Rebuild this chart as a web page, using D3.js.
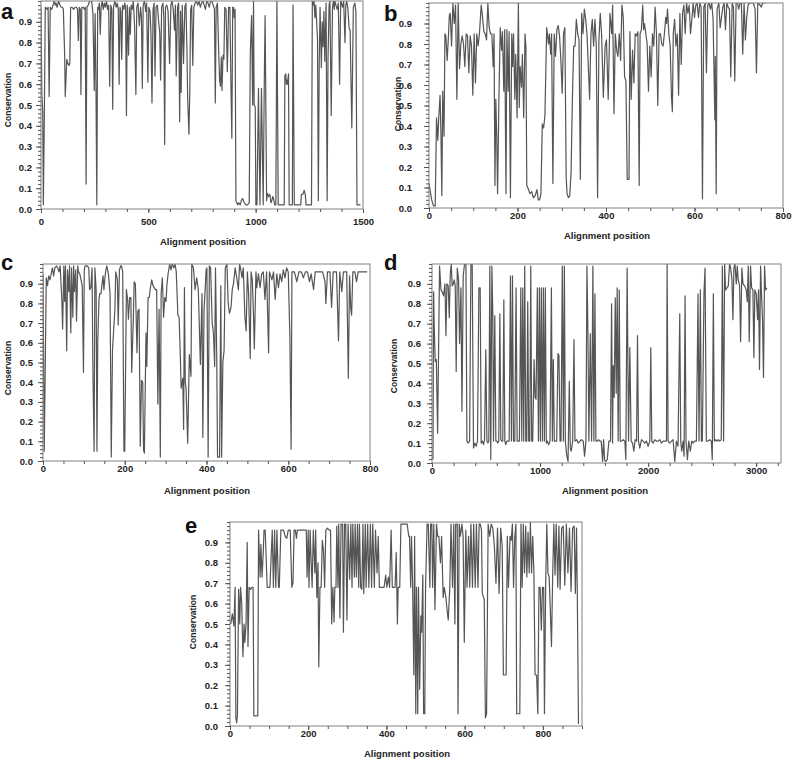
<!DOCTYPE html>
<html>
<head>
<meta charset="utf-8">
<script src="https://cdn.jsdelivr.net/npm/d3@7"></script>
<style>
  body { margin: 0; background: #fff; }
  text { font-family: Arial, "Liberation Sans", sans-serif; }
</style>
</head>
<body>
<svg id="fig" width="793" height="760"></svg>
<script>
// conservation along the alignment, [position, conservation]
var seriesA = [[0,0.97],[4,0.55],[8,0.47],[11,0.02],[16,0.5],[20,0.97],[28,0.96],[33,0.97],[38,0.54],[43,0.97],[50,0.96],[56,0.98],[62,1.0],[66,0.98],[70,0.99],[75,0.97],[82,1.0],[88,0.98],[94,0.97],[100,0.97],[104,0.96],[110,0.75],[113,0.54],[120,0.72],[125,0.70],[130,0.69],[134,0.70],[138,0.97],[145,0.97],[152,0.96],[158,0.97],[165,0.97],[170,0.96],[174,0.81],[178,0.97],[183,0.96],[186,0.55],[190,0.97],[197,0.97],[202,0.96],[206,0.97],[210,0.12],[214,0.97],[220,0.98],[226,1.0],[236,1.0],[242,0.94],[248,0.57],[252,0.94],[256,0.6],[260,0.02],[264,0.97],[268,0.96],[272,0.99],[276,0.84],[280,0.97],[285,1.0],[290,0.96],[295,0.99],[300,0.97],[305,1.0],[310,0.96],[315,0.98],[320,0.59],[325,0.98],[330,0.96],[334,0.48],[338,0.97],[344,1.0],[350,0.97],[355,0.99],[360,0.96],[364,0.6],[368,0.97],[372,0.95],[376,0.72],[380,0.98],[386,0.96],[390,0.99],[394,0.97],[398,0.45],[402,0.98],[408,0.74],[412,0.97],[416,0.84],[420,0.98],[425,0.96],[430,1.0],[436,0.88],[442,0.55],[446,0.97],[452,0.99],[458,0.88],[464,0.97],[468,0.92],[472,0.58],[476,0.98],[482,1.0],[488,0.95],[492,0.99],[498,0.61],[502,0.97],[508,0.95],[512,0.85],[517,0.51],[522,0.96],[527,0.99],[531,0.64],[536,0.97],[542,0.98],[548,0.90],[553,0.85],[557,0.62],[562,0.97],[568,0.99],[572,0.93],[576,0.31],[580,0.97],[586,0.98],[592,0.95],[599,0.70],[605,0.98],[610,1.0],[616,0.96],[622,0.86],[626,0.98],[630,0.64],[636,0.97],[641,0.99],[646,0.42],[650,0.95],[653,0.56],[658,0.98],[664,0.70],[670,0.97],[675,0.99],[680,0.76],[683,0.54],[689,0.36],[693,0.56],[697,0.96],[702,0.98],[707,0.69],[712,0.97],[718,0.99],[723,1.0],[730,0.98],[736,1.0],[742,0.97],[748,0.99],[754,1.0],[760,0.98],[766,0.96],[772,1.0],[778,0.99],[784,0.97],[790,1.0],[796,1.0],[802,0.98],[808,0.96],[812,0.51],[816,0.97],[822,0.99],[828,0.75],[832,0.62],[836,0.59],[840,0.73],[843,0.57],[848,0.74],[852,0.72],[856,0.97],[862,0.96],[868,0.66],[874,0.97],[880,0.97],[884,0.65],[889,0.34],[893,0.97],[897,0.97],[900,0.92],[904,0.96],[908,0.04],[916,0.02],[922,0.03],[928,0.02],[933,0.04],[939,0.05],[947,0.03],[955,0.02],[962,0.02],[970,0.03],[975,0.75],[981,0.93],[986,0.50],[990,1.0],[993,0.50],[998,0.49],[1001,0.02],[1006,0.02],[1013,0.58],[1020,0.02],[1027,0.58],[1035,0.02],[1040,0.60],[1044,0.93],[1051,0.04],[1055,0.075],[1060,0.06],[1066,0.07],[1071,0.03],[1075,0.04],[1080,0.06],[1083,0.05],[1089,0.02],[1094,0.02],[1099,1.0],[1105,0.02],[1115,0.02],[1125,0.02],[1133,0.02],[1136,0.64],[1140,0.65],[1143,0.60],[1145,0.62],[1148,0.60],[1153,0.65],[1156,0.02],[1165,0.02],[1171,0.02],[1174,0.98],[1180,0.02],[1190,0.02],[1200,0.02],[1210,0.02],[1213,0.07],[1220,0.07],[1226,0.09],[1231,0.07],[1235,0.02],[1245,0.02],[1255,0.02],[1260,0.02],[1264,1.0],[1268,0.98],[1272,1.0],[1276,0.92],[1280,0.98],[1284,0.90],[1288,0.82],[1292,0.04],[1296,0.70],[1300,0.97],[1306,0.68],[1310,0.90],[1314,0.78],[1318,0.95],[1322,0.71],[1328,0.99],[1333,0.04],[1337,0.72],[1342,0.98],[1346,1.0],[1352,0.45],[1358,0.97],[1362,1.0],[1366,0.96],[1369,1.0],[1374,0.98],[1380,0.96],[1385,0.99],[1391,0.6],[1396,1.0],[1400,0.99],[1405,0.97],[1410,1.0],[1416,0.80],[1420,0.98],[1424,1.0],[1430,0.96],[1435,0.87],[1440,0.86],[1448,0.39],[1455,0.97],[1462,0.99],[1467,0.95],[1472,0.02],[1488,0.02]];

var seriesB = [[0,0.12],[3,0.08],[6,0.04],[10,0.01],[14,0.01],[17,0.44],[20,0.33],[22,0.44],[25,0.55],[27,0.36],[29,0.06],[31,0.57],[34,0.35],[36,0.85],[38,0.84],[41,0.72],[44,0.84],[46,0.94],[48,0.95],[51,0.79],[54,1.0],[57,0.90],[60,0.99],[63,0.53],[66,1.0],[69,0.68],[72,0.80],[75,0.84],[78,0.80],[81,0.69],[84,0.85],[87,0.84],[90,0.66],[93,0.84],[96,0.79],[99,0.55],[102,0.85],[105,0.61],[108,0.85],[111,0.79],[114,0.85],[118,0.99],[121,0.93],[124,0.86],[127,0.85],[130,0.82],[133,1.0],[136,0.88],[139,0.85],[142,0.85],[145,0.69],[147,0.85],[149,0.11],[151,0.53],[153,0.36],[155,0.07],[158,0.53],[161,0.88],[164,0.77],[166,0.86],[169,0.57],[171,0.87],[174,0.07],[176,0.87],[179,0.57],[181,0.86],[184,0.05],[187,0.85],[189,0.69],[191,0.85],[194,0.53],[196,0.75],[199,0.44],[202,1.0],[204,0.49],[206,0.69],[209,0.59],[211,0.75],[214,0.44],[217,0.85],[219,0.79],[221,0.11],[225,0.09],[228,0.07],[232,0.08],[236,0.05],[240,0.06],[244,0.09],[247,0.04],[250,0.04],[253,0.07],[256,0.41],[259,0.39],[262,0.45],[266,0.88],[270,0.80],[272,0.85],[275,0.75],[277,0.85],[280,0.12],[283,0.85],[286,0.74],[289,0.87],[292,0.89],[295,0.84],[298,0.72],[301,0.56],[304,0.85],[307,0.88],[310,0.15],[312,0.07],[315,0.05],[318,0.06],[321,0.17],[324,0.53],[327,0.79],[330,0.79],[333,0.92],[336,0.85],[339,0.82],[342,0.14],[345,0.95],[348,0.85],[351,0.97],[354,0.92],[357,0.85],[360,0.69],[363,0.53],[366,0.85],[369,0.92],[372,0.79],[375,0.92],[378,0.79],[381,0.05],[384,0.82],[387,0.95],[390,0.85],[394,0.54],[398,0.79],[401,0.82],[405,0.53],[409,0.95],[413,0.85],[415,0.99],[418,0.46],[421,0.85],[424,0.77],[427,0.74],[430,0.85],[433,0.72],[436,0.99],[439,0.93],[442,0.64],[445,0.62],[448,0.14],[452,0.14],[454,0.86],[457,0.53],[460,0.77],[463,0.61],[466,0.85],[469,0.84],[472,0.86],[475,0.11],[477,0.85],[480,0.87],[483,0.99],[485,0.87],[487,0.90],[490,0.85],[493,0.80],[496,0.57],[499,0.79],[502,0.64],[505,0.85],[508,0.79],[511,0.98],[514,0.85],[517,0.50],[520,0.85],[523,0.85],[526,0.80],[529,0.79],[532,0.85],[535,0.93],[537,0.90],[539,0.97],[542,0.85],[545,0.79],[548,0.54],[550,0.47],[552,0.85],[555,0.92],[558,0.79],[561,0.85],[564,0.55],[567,0.95],[570,0.70],[573,0.95],[576,0.99],[579,0.85],[582,1.0],[585,0.95],[588,0.99],[591,0.85],[594,0.92],[597,1.0],[600,0.93],[603,0.99],[606,1.0],[609,0.93],[612,1.0],[615,0.98],[618,0.045],[621,0.98],[624,1.0],[627,0.66],[630,0.99],[633,1.0],[636,0.97],[639,1.0],[642,0.92],[646,0.43],[647,0.74],[649,0.07],[651,0.97],[655,1.0],[658,0.88],[661,0.93],[664,0.98],[667,1.0],[670,0.87],[673,1.0],[676,0.98],[679,0.97],[682,0.64],[685,1.0],[688,0.98],[691,0.62],[694,1.0],[697,1.0],[700,0.97],[703,1.0],[706,1.0],[709,0.75],[712,1.0],[715,0.82],[718,0.93],[721,0.99],[725,1.0],[733,1.0],[737,0.97],[740,0.66],[743,1.0],[748,0.99],[751,0.98],[754,1.0],[760,1.0]];

var seriesC = [[0,0.95],[3,0.05],[8,0.93],[11,0.89],[14,0.94],[17,0.92],[20,0.95],[23,0.98],[26,0.94],[29,0.98],[33,0.99],[36,0.98],[39,0.96],[42,0.99],[46,0.82],[48,0.67],[51,0.99],[53,0.81],[55,0.99],[58,0.56],[60,0.97],[63,0.86],[65,0.99],[68,0.65],[70,0.98],[73,0.73],[75,0.99],[77,0.86],[80,0.97],[82,0.71],[85,0.99],[87,0.96],[90,0.95],[93,0.92],[96,0.89],[99,0.45],[101,0.97],[103,0.99],[108,0.99],[112,0.98],[114,0.87],[117,0.88],[120,0.98],[122,0.48],[125,0.05],[127,0.98],[130,0.87],[132,0.05],[134,0.61],[137,0.82],[139,0.85],[142,0.85],[144,0.89],[147,0.94],[149,0.87],[152,0.94],[154,0.97],[156,0.99],[160,0.95],[164,0.85],[167,0.02],[170,0.56],[173,0.67],[176,0.77],[178,0.96],[182,0.92],[184,0.69],[187,0.97],[190,0.99],[192,0.99],[195,0.96],[198,0.05],[200,0.05],[204,0.87],[207,0.82],[209,0.72],[212,0.83],[215,0.83],[217,0.45],[221,0.72],[223,0.91],[226,0.90],[230,0.55],[232,0.76],[235,0.77],[238,0.075],[241,0.41],[244,0.40],[246,0.055],[248,0.04],[252,0.65],[254,0.48],[257,0.83],[260,0.83],[262,0.87],[266,0.92],[269,0.89],[272,0.88],[275,0.87],[278,0.87],[281,0.29],[284,0.77],[287,0.02],[289,0.85],[292,0.93],[295,0.73],[298,0.83],[301,0.81],[303,0.89],[306,0.95],[310,1.0],[313,0.97],[316,1.0],[320,0.98],[323,1.0],[326,0.96],[330,0.74],[333,0.73],[336,0.53],[338,0.37],[342,0.42],[344,0.16],[346,0.88],[348,0.40],[350,0.37],[354,0.09],[358,0.54],[362,0.43],[364,1.0],[368,0.98],[372,0.87],[376,0.93],[380,0.87],[385,0.49],[389,0.85],[391,0.12],[394,0.77],[397,0.88],[399,0.97],[401,0.98],[404,0.02],[407,0.99],[410,0.98],[414,0.70],[417,0.65],[420,0.48],[422,0.98],[425,0.54],[427,0.02],[432,0.02],[435,0.89],[437,0.02],[440,0.50],[443,0.56],[446,0.98],[450,1.0],[453,0.80],[456,0.75],[460,0.78],[463,0.87],[466,0.90],[470,0.98],[474,0.93],[478,0.87],[481,1.0],[484,0.97],[487,0.93],[490,0.98],[494,0.73],[497,0.66],[500,0.96],[503,0.85],[507,0.52],[509,0.96],[512,0.92],[515,0.74],[517,0.57],[521,0.96],[523,0.88],[527,0.95],[531,0.88],[535,0.95],[539,0.96],[543,0.82],[547,0.96],[552,0.55],[554,0.96],[560,0.92],[564,0.96],[568,0.82],[572,0.95],[576,0.88],[580,0.95],[584,0.91],[588,0.97],[592,0.93],[596,0.98],[600,0.96],[604,0.63],[607,0.06],[609,0.96],[615,0.96],[621,0.91],[626,0.96],[632,0.96],[637,0.93],[642,0.96],[647,0.96],[652,0.91],[656,0.95],[662,0.87],[666,0.96],[675,0.96],[684,0.96],[690,0.91],[692,0.80],[696,0.96],[702,0.96],[706,0.78],[710,0.96],[718,0.96],[723,0.61],[726,0.96],[731,0.86],[735,0.96],[743,0.96],[747,0.42],[750,0.94],[753,0.77],[755,0.74],[758,0.96],[763,0.96],[767,0.91],[771,0.96],[780,0.96],[793,0.96]];

var seriesD = [[0,0.02],[9,0.02],[15,0.86],[21,0.67],[30,0.51],[40,0.52],[52,0.15],[70,0.99],[83,0.87],[95,0.86],[107,0.84],[120,0.90],[129,0.64],[138,0.90],[150,0.89],[160,0.73],[169,0.95],[178,1.0],[187,0.89],[197,0.90],[206,0.92],[215,0.89],[224,0.46],[234,0.98],[246,0.92],[255,0.60],[268,0.88],[277,0.26],[289,0.94],[301,1.0],[314,1.0],[323,0.11],[335,0.10],[348,0.11],[360,1.0],[372,1.0],[384,0.075],[397,0.10],[409,0.084],[421,0.11],[434,0.88],[446,0.88],[455,0.10],[467,0.11],[477,0.092],[486,0.117],[498,0.57],[508,0.11],[517,0.10],[526,0.11],[535,0.99],[544,0.017],[554,0.99],[563,0.74],[569,0.11],[581,0.74],[591,0.11],[600,0.11],[609,0.10],[618,0.11],[628,0.75],[637,0.117],[646,0.11],[655,0.11],[665,0.82],[674,0.11],[683,0.092],[692,0.11],[702,0.11],[714,0.11],[726,0.94],[735,0.11],[745,0.94],[754,0.11],[766,0.11],[778,0.88],[788,0.11],[800,0.11],[809,0.11],[822,0.88],[831,0.11],[840,0.88],[849,0.11],[858,0.99],[868,0.11],[877,0.11],[886,0.81],[895,0.11],[905,0.11],[914,0.99],[923,0.11],[932,0.11],[945,0.52],[954,0.33],[963,0.32],[975,0.88],[985,0.11],[994,0.88],[1003,0.11],[1012,0.88],[1022,0.11],[1031,0.88],[1040,0.11],[1049,0.88],[1058,0.10],[1068,0.11],[1080,0.092],[1092,0.11],[1105,0.88],[1114,0.11],[1123,0.52],[1132,0.11],[1142,0.11],[1154,0.11],[1166,0.55],[1175,0.54],[1185,0.11],[1194,0.11],[1206,0.99],[1216,0.11],[1225,0.99],[1234,0.11],[1246,0.042],[1259,0.008],[1271,0.41],[1280,0.075],[1289,0.059],[1302,0.11],[1314,0.62],[1323,0.11],[1339,0.117],[1354,0.10],[1369,0.11],[1385,0.117],[1400,0.11],[1412,0.034],[1425,0.11],[1434,0.99],[1443,0.66],[1452,0.11],[1465,0.65],[1477,0.11],[1489,0.99],[1498,0.11],[1508,0.85],[1517,0.11],[1529,0.11],[1542,0.117],[1554,0.11],[1566,0.11],[1579,0.008],[1588,0.117],[1597,0.017],[1606,0.008],[1622,0.017],[1637,0.11],[1652,0.11],[1662,0.80],[1671,0.10],[1677,0.49],[1686,0.33],[1696,0.83],[1705,0.35],[1714,0.88],[1723,0.11],[1733,0.87],[1742,0.11],[1754,0.11],[1769,0.117],[1785,0.11],[1794,0.017],[1806,0.98],[1819,0.11],[1831,0.58],[1843,0.11],[1856,0.10],[1868,0.059],[1880,0.117],[1893,0.11],[1902,0.64],[1911,0.11],[1923,0.075],[1939,0.117],[1954,0.11],[1970,0.10],[1985,0.11],[2000,0.084],[2016,0.11],[2025,0.58],[2034,0.11],[2046,0.10],[2062,0.117],[2077,0.11],[2093,0.11],[2108,0.117],[2123,0.10],[2139,0.11],[2154,0.11],[2170,0.11],[2176,1.0],[2185,0.11],[2200,0.10],[2216,0.11],[2231,0.117],[2247,0.008],[2262,0.11],[2277,0.084],[2293,0.75],[2302,0.11],[2311,0.059],[2324,0.11],[2333,0.034],[2342,0.84],[2351,0.11],[2364,0.017],[2376,0.11],[2391,0.059],[2404,0.11],[2416,0.10],[2431,0.11],[2447,0.11],[2462,0.85],[2471,0.11],[2484,0.87],[2493,0.11],[2502,0.11],[2517,0.85],[2527,0.98],[2539,0.11],[2554,0.11],[2570,0.117],[2585,0.11],[2594,0.017],[2604,0.85],[2613,0.11],[2625,0.117],[2637,0.11],[2650,0.117],[2662,0.11],[2677,0.117],[2687,0.99],[2699,0.11],[2708,1.0],[2717,0.87],[2730,0.88],[2742,0.89],[2754,1.0],[2764,0.98],[2776,0.92],[2785,0.72],[2794,0.98],[2804,1.0],[2816,0.90],[2825,0.99],[2834,0.92],[2847,0.89],[2856,0.61],[2868,0.98],[2878,0.90],[2893,0.89],[2908,0.87],[2918,0.81],[2927,0.99],[2936,0.61],[2948,0.99],[2958,0.88],[2970,0.87],[2979,0.53],[2988,0.87],[3001,0.85],[3013,0.72],[3022,0.87],[3031,0.47],[3041,0.99],[3050,0.84],[3059,0.72],[3068,0.43],[3078,0.99],[3087,0.87],[3099,0.88]];

var seriesE = [[2,0.50],[6,0.55],[10,0.49],[13,0.68],[15,0.04],[17,0.015],[19,0.05],[22,0.67],[25,0.50],[27,0.68],[30,0.60],[33,0.34],[36,0.50],[38,0.41],[41,0.50],[44,0.90],[46,0.39],[49,0.68],[53,0.67],[56,0.68],[59,0.68],[61,0.05],[67,0.05],[71,0.05],[73,0.96],[77,0.73],[79,0.89],[82,0.73],[85,0.85],[87,0.96],[90,0.96],[92,0.85],[95,0.68],[102,0.68],[108,0.96],[111,0.68],[114,0.96],[117,0.68],[120,0.96],[124,0.68],[126,0.68],[130,0.96],[133,0.96],[137,0.96],[141,0.93],[145,0.92],[149,0.96],[154,0.96],[158,0.68],[161,0.70],[164,0.96],[167,0.96],[170,0.92],[172,0.96],[178,0.96],[184,0.96],[190,0.96],[195,0.96],[197,0.73],[200,0.96],[202,0.68],[205,0.96],[207,0.83],[210,0.68],[213,0.96],[217,0.75],[219,0.96],[222,0.63],[225,0.80],[227,0.29],[230,0.68],[233,0.68],[236,0.91],[239,0.86],[242,0.68],[245,0.96],[249,0.97],[254,0.96],[257,0.96],[260,0.50],[263,0.68],[266,0.51],[268,0.68],[271,0.68],[273,0.98],[276,0.68],[278,0.99],[281,0.53],[284,0.99],[288,0.99],[290,0.46],[293,0.99],[296,0.99],[299,0.52],[302,0.99],[306,0.72],[309,0.99],[312,0.68],[314,0.99],[318,0.73],[320,0.99],[323,0.73],[326,0.99],[329,0.68],[331,0.99],[334,0.68],[337,0.67],[340,0.99],[342,0.65],[346,0.99],[348,0.68],[352,0.99],[355,0.68],[359,0.99],[362,0.68],[365,0.99],[369,0.68],[372,0.96],[376,0.75],[379,0.93],[382,0.68],[386,0.68],[390,0.68],[394,0.68],[398,0.74],[401,0.68],[405,0.73],[408,0.68],[412,0.96],[415,0.68],[418,0.68],[422,0.68],[425,0.85],[428,0.50],[430,0.68],[434,0.68],[437,0.99],[441,0.99],[444,0.99],[448,0.99],[453,0.99],[457,0.93],[459,0.93],[462,0.68],[464,0.93],[467,0.68],[470,0.25],[472,0.93],[475,0.06],[477,0.68],[480,0.06],[482,0.68],[485,0.18],[488,0.54],[490,0.46],[493,0.74],[495,0.06],[498,0.06],[500,0.68],[504,0.99],[507,0.99],[511,0.68],[513,0.99],[516,0.99],[518,0.68],[521,0.99],[524,0.57],[528,0.99],[531,0.93],[534,0.93],[538,0.80],[541,0.93],[545,0.63],[548,0.68],[552,0.63],[555,0.57],[558,0.52],[562,0.68],[565,0.99],[569,0.68],[572,0.99],[575,0.50],[577,0.99],[581,0.99],[583,0.06],[586,0.99],[589,0.93],[593,0.99],[596,0.93],[599,0.41],[603,0.96],[606,0.68],[610,0.93],[613,0.68],[616,0.99],[620,0.68],[623,0.99],[627,0.68],[630,0.99],[634,0.68],[637,0.99],[640,0.99],[643,0.96],[645,0.65],[650,0.62],[653,0.04],[656,0.06],[660,0.99],[664,0.93],[668,0.99],[672,0.97],[676,0.88],[680,0.70],[684,0.97],[688,0.65],[692,0.97],[696,0.88],[699,0.25],[706,0.25],[709,0.93],[712,0.68],[716,0.93],[719,0.91],[722,0.99],[725,0.68],[728,0.92],[731,0.99],[733,0.06],[741,0.06],[744,0.99],[747,0.68],[750,0.99],[753,0.75],[756,0.98],[759,0.73],[762,0.95],[765,0.75],[768,1.0],[771,0.75],[774,0.93],[777,0.75],[780,0.25],[784,0.25],[787,0.06],[790,0.68],[793,0.68],[796,0.47],[799,0.68],[802,0.68],[804,0.06],[807,0.68],[810,0.99],[813,0.75],[816,0.73],[819,0.57],[822,0.39],[825,0.74],[828,0.99],[831,0.74],[834,0.99],[838,0.68],[841,0.98],[844,0.67],[848,0.97],[852,0.98],[856,0.69],[860,0.99],[864,0.75],[868,0.97],[872,0.66],[876,0.97],[880,0.98],[883,0.65],[886,0.97],[888,0.64],[891,0.01]];

// tick labels
var yTicks = [0, 0.1, 0.2, 0.3, 0.4, 0.5, 0.6, 0.7, 0.8, 0.9];
var xTicksA = [0, 500, 1000, 1500];
var xTicksB = [0, 200, 400, 600, 800];
var xTicksC = [0, 200, 400, 600, 800];
var xTicksD = [0, 1000, 2000, 3000];
var xTicksE = [0, 200, 400, 600, 800];

var panels = [
  {letter: "a", data: seriesA, xMax: 1500, xTicks: xTicksA, minor: 100,
   left: 41, right: 363, top: 1, bottom: 209, xPad: 5, yPad: 4,
   consX: 8, consY: 100, titleX: 203, titleY: 245, letX: 1, letY: 19},
  {letter: "b", data: seriesB, xMax: 800, xTicks: xTicksB, minor: 50,
   left: 429, right: 783, top: 3, bottom: 208, xPad: 0, yPad: 12,
   consX: 398, consY: 104, titleX: 607, titleY: 239, letX: 384, letY: 21},
  {letter: "c", data: seriesC, xMax: 800, xTicks: xTicksC, minor: 50,
   left: 43, right: 370, top: 264, bottom: 461, xPad: 0, yPad: 5,
   consX: 8, consY: 368, titleX: 207, titleY: 494, letX: 1, letY: 270},
  {letter: "d", data: seriesD, xMax: 3230, xTicks: xTicksD, minor: 200,
   left: 432, right: 781, top: 264, bottom: 463, xPad: 0, yPad: 6,
   consX: 394, consY: 366, titleX: 605, titleY: 494, letX: 384, letY: 270},
  {letter: "e", data: seriesE, xMax: 900, xTicks: xTicksE, minor: 50,
   left: 230, right: 582, top: 522, bottom: 726, xPad: 0, yPad: 7,
   consX: 193, consY: 622, titleX: 407, titleY: 757, letX: 185, letY: 533}
];

var svg = d3.select("#fig");

panels.forEach(function (p, i) {
  var x = d3.scaleLinear().domain([0, p.xMax]).range([p.left, p.right]);
  var y = d3.scaleLinear().domain([0, 1]).range([p.bottom, p.top]);

  svg.append("clipPath").attr("id", "clip" + i)
    .append("rect")
    .attr("x", p.left).attr("y", p.top)
    .attr("width", p.right - p.left).attr("height", p.bottom - p.top);

  svg.append("path")
    .datum(p.data)
    .attr("clip-path", "url(#clip" + i + ")")
    .attr("fill", "none")
    .attr("stroke", "#555")
    .attr("stroke-width", 1.2)
    .attr("stroke-linejoin", "round")
    .attr("d", d3.line().x(function (d) { return x(d[0]); }).y(function (d) { return y(d[1]); }));

  // frame
  svg.append("rect")
    .attr("x", p.left).attr("y", p.top)
    .attr("width", p.right - p.left).attr("height", p.bottom - p.top)
    .attr("fill", "none").attr("stroke", "#808080").attr("stroke-width", 1);

  // x axis: small ticks, then labelled ones
  var gx = svg.append("g").attr("transform", "translate(0," + p.bottom + ")");
  gx.call(d3.axisBottom(x).tickValues(d3.range(0, p.xMax + 1, p.minor)).tickSize(3).tickFormat(""));
  var gx2 = svg.append("g").attr("transform", "translate(0," + p.bottom + ")");
  gx2.call(d3.axisBottom(x).tickValues(p.xTicks).tickSize(4).tickPadding(p.xPad).tickFormat(d3.format("d")));

  // y axis
  var gy = svg.append("g").attr("transform", "translate(" + p.left + ",0)");
  gy.call(d3.axisLeft(y).tickValues(d3.range(0, 1.001, 0.02)).tickSize(3).tickFormat(""));
  var gy2 = svg.append("g").attr("transform", "translate(" + p.left + ",0)");
  gy2.call(d3.axisLeft(y).tickValues(yTicks).tickSize(5).tickPadding(p.yPad).tickFormat(d3.format(".1f")));

  [gx, gx2, gy, gy2].forEach(function (g) {
    g.select(".domain").remove();
    g.selectAll(".tick line").attr("stroke", "#555");
    g.selectAll(".tick text")
      .attr("fill", "#222")
      .style("font-size", "9.5px")
      .style("font-weight", "bold");
  });

  svg.append("text")
    .attr("x", p.titleX).attr("y", p.titleY)
    .attr("text-anchor", "middle")
    .style("font-size", "9.5px").style("font-weight", "bold")
    .attr("fill", "#222")
    .text("Alignment position");

  svg.append("text")
    .attr("transform", "translate(" + p.consX + "," + p.consY + ") rotate(-90)")
    .attr("text-anchor", "middle")
    .attr("dy", "0.35em")
    .style("font-size", "8.5px").style("font-weight", "bold")
    .attr("fill", "#222")
    .text("Conservation");

  svg.append("text")
    .attr("x", p.letX).attr("y", p.letY)
    .style("font-size", "22px").style("font-weight", "bold")
    .attr("fill", "#111")
    .text(p.letter);
});
</script>
</body>
</html>
